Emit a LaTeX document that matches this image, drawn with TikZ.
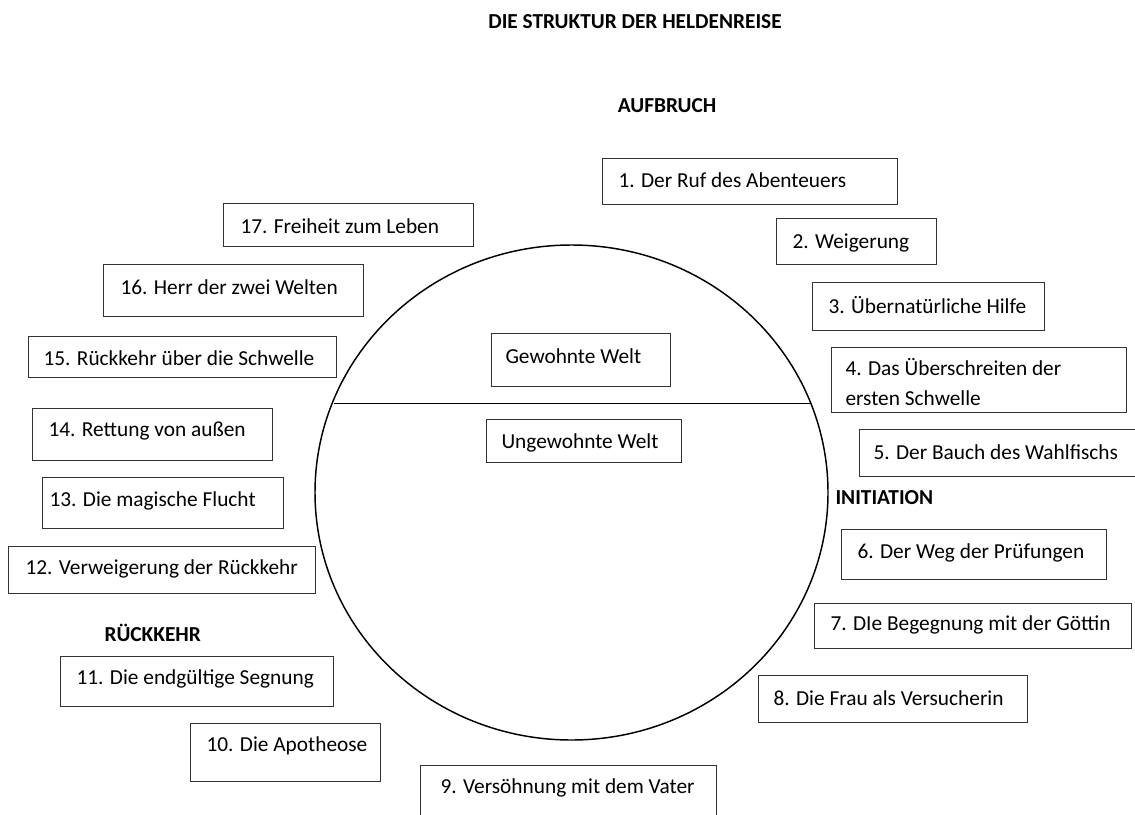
\documentclass[tikz,border=0pt]{standalone}
\usepackage{fontspec}
\setmainfont{Carlito}
\begin{document}
\tikzset{every picture/.style={line width=0.75pt}}
\tikzset{
  stage/.style={anchor=west, inner sep=0pt, font=\fontsize{16}{22.5}\selectfont},
  phase/.style={anchor=west, inner sep=0pt, font=\fontsize{16}{22.5}\selectfont\bfseries},
  frame/.style={draw=black!80},
}

\begin{tikzpicture}[x=0.75pt,y=0.75pt,yscale=-1,xscale=1]
	\useasboundingbox (0,0) rectangle (1135,814);

	%Shape: Circle
	\draw  [line width=1.1pt] (571.5,492.5) ellipse (256.5 and 247.5) ;
	%Straight Lines
	\draw    (334,403) -- (810,403) ;

	%Shape: Rectangle (Gewohnte Welt)
	\draw  [frame] (491,333) -- (670,333) -- (670,386) -- (491,386) -- cycle ;
	%Shape: Rectangle (Ungewohnte Welt)
	\draw  [frame] (486,419) -- (681,419) -- (681,462) -- (486,462) -- cycle ;

	%Shape: Rectangle 1
	\draw  [frame] (602,158) -- (897,158) -- (897,204) -- (602,204) -- cycle ;
	%Shape: Rectangle 2
	\draw  [frame] (776,218) -- (936,218) -- (936,264) -- (776,264) -- cycle ;
	%Shape: Rectangle 3
	\draw  [frame] (812,282) -- (1044,282) -- (1044,330) -- (812,330) -- cycle ;
	%Shape: Rectangle 4
	\draw  [frame] (831,347) -- (1126,347) -- (1126,412) -- (831,412) -- cycle ;
	%Shape: Rectangle 5
	\draw  [frame] (859,429) -- (1145,429) -- (1145,476) -- (859,476) -- cycle ;
	%Shape: Rectangle 6
	\draw  [frame] (841,529) -- (1106,529) -- (1106,579) -- (841,579) -- cycle ;
	%Shape: Rectangle 7
	\draw  [frame] (814,603) -- (1131,603) -- (1131,648) -- (814,648) -- cycle ;
	%Shape: Rectangle 8
	\draw  [frame] (758,675) -- (1027,675) -- (1027,722) -- (758,722) -- cycle ;
	%Shape: Rectangle 9
	\draw  [frame] (420,765) -- (716,765) -- (716,822) -- (420,822) -- cycle ;
	%Shape: Rectangle 10
	\draw  [frame] (190,723) -- (380,723) -- (380,781) -- (190,781) -- cycle ;
	%Shape: Rectangle 11
	\draw  [frame] (60,656) -- (333,656) -- (333,706) -- (60,706) -- cycle ;
	%Shape: Rectangle 12
	\draw  [frame] (8,546) -- (315,546) -- (315,593) -- (8,593) -- cycle ;
	%Shape: Rectangle 13
	\draw  [frame] (42,477) -- (283,477) -- (283,528) -- (42,528) -- cycle ;
	%Shape: Rectangle 14
	\draw  [frame] (32,408) -- (272,408) -- (272,460) -- (32,460) -- cycle ;
	%Shape: Rectangle 15
	\draw  [frame] (28,336) -- (336,336) -- (336,377) -- (28,377) -- cycle ;
	%Shape: Rectangle 16
	\draw  [frame] (103,264) -- (363,264) -- (363,316) -- (103,316) -- cycle ;
	%Shape: Rectangle 17
	\draw  [frame] (223,203) -- (473,203) -- (473,246) -- (223,246) -- cycle ;

	% Text Node
	\node [phase, anchor=center] (title) at (635,22) {DIE STRUKTUR DER HELDENREISE};
	% Text Node
	\node [phase, anchor=center] (aufbruch) at (667,106) {AUFBRUCH};
	% Text Node
	\node [phase] (initiation) at (835,498) {INITIATION};
	% Text Node
	\node [phase] (rueckkehr) at (104,633) {RÜCKKEHR};

	% Text Node
	\node [stage] (gewohnt) at (505,356) {Gewohnte Welt};
	% Text Node
	\node [stage] (ungewohnt) at (501,443) {Ungewohnte Welt};

	% Text Node
	\node [stage] (s1) at (618,180) {1. Der Ruf des Abenteuers};
	% Text Node
	\node [stage] (s2) at (792,243) {2. Weigerung};
	% Text Node
	\node [stage] (s3) at (828,305) {3. Übernatürliche Hilfe};
	% Text Node
	\node [stage, align=left] (s4) at (845,382) {4. Das Überschreiten der\\ersten Schwelle};
	% Text Node
	\node [stage] (s5) at (873,452) {5. Der Bauch des Wahlfischs};
	% Text Node
	\node [stage] (s6) at (857,553) {6. Der Weg der Prüfungen};
	% Text Node
	\node [stage] (s7) at (830,625) {7. DIe Begegnung mit der Göttin};
	% Text Node
	\node [stage] (s8) at (773,698) {8. Die Frau als Versucherin};
	% Text Node
	\node [stage] (s9) at (440,788) {9. Versöhnung mit dem Vater};
	% Text Node
	\node [stage] (s10) at (206,746) {10. Die Apotheose};
	% Text Node
	\node [stage] (s11) at (76,679) {11. Die endgültige Segnung};
	% Text Node
	\node [stage] (s12) at (25,569) {12. Verweigerung der Rückkehr};
	% Text Node
	\node [stage] (s13) at (49,501) {13. Die magische Flucht};
	% Text Node
	\node [stage] (s14) at (48,431) {14. Rettung von außen};
	% Text Node
	\node [stage] (s15) at (43,358) {15. Rückkehr über die Schwelle};
	% Text Node
	\node [stage] (s16) at (120,287) {16. Herr der zwei Welten};
	% Text Node
	\node [stage] (s17) at (240,226) {17. Freiheit zum Leben};

\end{tikzpicture}
\end{document}
